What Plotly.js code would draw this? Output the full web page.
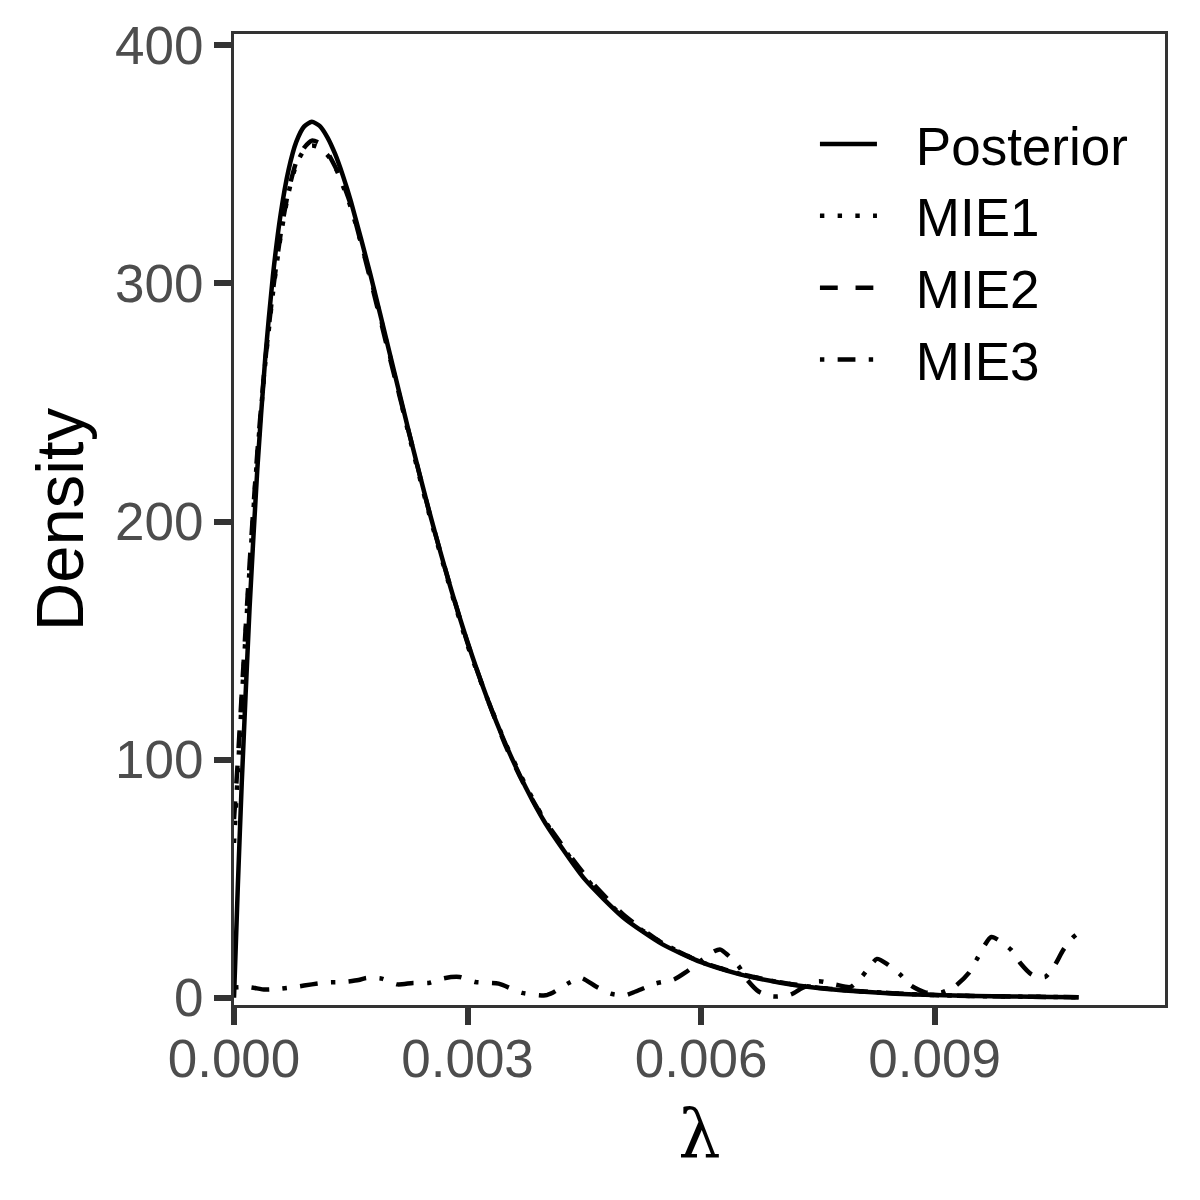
<!DOCTYPE html>
<html>
<head>
<meta charset="utf-8">
<script src="https://cdn.plot.ly/plotly-3.0.1.min.js"></script>
<style>html,body{margin:0;padding:0;background:#fff;}#chart{width:1200px;height:1200px;}</style>
</head>
<body>
<div id="chart"></div>
<script>
// Posterior density (solid)
const postLambda = [0, 0.00005, 0.0001, 0.0002, 0.0003, 0.0004, 0.0005, 0.0006, 0.0007, 0.0008, 0.0009, 0.001, 0.0011, 0.0012, 0.0013, 0.0014, 0.0015, 0.00175, 0.002, 0.00225, 0.0025, 0.00275, 0.003, 0.00325, 0.0035, 0.00375, 0.004, 0.0045, 0.005, 0.0055, 0.006, 0.0065, 0.007, 0.0075, 0.008, 0.0085, 0.009, 0.0095, 0.01, 0.0105, 0.01085];
const postDensity = [0, 47.6, 90.5, 163.7, 222.2, 268.1, 303.3, 329.3, 347.6, 359.5, 365.9, 367.9, 366.2, 361.4, 354.3, 345.2, 334.7, 304.1, 270.7, 237.2, 205.2, 175.8, 149.4, 126.0, 105.7, 88.2, 73.3, 50.0, 33.7, 22.5, 14.9, 9.8, 6.4, 4.1, 2.7, 1.7, 1.1, 0.7, 0.5, 0.3, 0.2];

// MIE1 (dotted) and MIE2 (dashed) share the same lambda grid
const mieLambda = [0, 0.00005, 0.0001, 0.0002, 0.0003, 0.0004, 0.0005, 0.0006, 0.0007, 0.0008, 0.0009, 0.001, 0.0011, 0.0012, 0.0013, 0.0014, 0.0015, 0.00175, 0.002, 0.00225, 0.0025, 0.00275, 0.003, 0.00325, 0.0035, 0.00375, 0.004, 0.0045, 0.005, 0.0055, 0.006, 0.0065, 0.007, 0.0075, 0.008, 0.0085, 0.009, 0.0095, 0.01, 0.0105, 0.01085];
const mie1Density = [65, 95, 125, 180, 228, 266, 296, 320, 338, 350, 356, 358, 357, 354, 349, 341, 332, 303, 270, 236, 204, 175, 148, 126, 106, 89, 74, 51, 34, 23, 15, 10, 6.5, 4.2, 2.8, 1.8, 1.1, 0.7, 0.5, 0.3, 0.2];
const mie2Density = [75, 100, 128, 182, 229, 267, 297, 321, 339, 351, 357, 360, 359, 355, 349, 342, 333, 302, 269, 237, 205, 176, 149, 126, 105, 88, 74, 52, 35, 23, 15, 10, 6.6, 4.2, 2.8, 1.8, 1.1, 0.7, 0.5, 0.3, 0.2];

// MIE3 (dot-dash), noisy density near zero
const mie3Lambda = [0, 0.0002, 0.0004, 0.0006, 0.0008, 0.001, 0.0012, 0.0014, 0.0016, 0.0017, 0.0019, 0.0021, 0.0023, 0.0025, 0.0027, 0.0029, 0.0031, 0.0034, 0.0037, 0.004, 0.0041, 0.0043, 0.00446, 0.00465, 0.00484, 0.00503, 0.00516, 0.00542, 0.00565, 0.0058, 0.006, 0.00617, 0.00625, 0.00634, 0.00648, 0.00659, 0.00674, 0.00692, 0.00715, 0.0073, 0.00751, 0.00773, 0.00792, 0.00807, 0.00826, 0.0084, 0.00856, 0.0087, 0.00888, 0.00909, 0.00927, 0.00944, 0.00954, 0.00973, 0.00998, 0.0101, 0.01025, 0.01042, 0.01054, 0.01065, 0.01077, 0.01082];
const mie3Density = [4.3, 4.4, 3.4, 3.8, 4.6, 5.6, 6.4, 6.6, 7.4, 8.3, 8.0, 5.6, 6.2, 6.2, 8.2, 8.7, 6.6, 5.9, 2.0, 1.0, 2.2, 6.2, 8.3, 4.7, 1.7, 1.0, 2.6, 6.0, 7.6, 10.6, 15.5, 19.5, 20.2, 18.0, 13.4, 7.6, 2.6, 0.5, 1.3, 4.1, 6.9, 5.5, 4.5, 9.0, 16.3, 13.9, 9.7, 5.0, 2.2, 2.2, 5.0, 10.4, 16.0, 25.5, 20.2, 14.6, 9.7, 8.7, 13.4, 19.9, 25.1, 26.5];

const seriesNames = ["Posterior", "MIE1", "MIE2", "MIE3"];
const xTickVals = [0, 0.003, 0.006, 0.009];
const xTickText = ["0.000", "0.003", "0.006", "0.009"];
const yTickVals = [0, 100, 200, 300, 400];
const yTickText = ["0", "100", "200", "300", "400"];

const LW = 4.5;
const dashes = ["solid", "4.4px,13.3px", "17.8px,17.8px", "4.4px,13.3px,17.8px,13.3px"];
const xs = [postLambda, mieLambda, mieLambda, mie3Lambda];
const ys = [postDensity, mie1Density, mie2Density, mie3Density];
const GAP = "\u00A0\u00A0\u200A";

const traces = seriesNames.map((name, i) => ({
  x: xs[i], y: ys[i], name: GAP + name, type: "scatter", mode: "lines",
  line: {color: "#000000", width: LW, dash: dashes[i], shape: "spline", smoothing: 0.6},
  hoverinfo: "skip"
}));

const FONT = "Liberation Sans, Arial, sans-serif";

const layout = {
  width: 1200, height: 1200,
  paper_bgcolor: "#ffffff", plot_bgcolor: "#ffffff",
  margin: {l: 234, r: 35, t: 34, b: 195, pad: 0},
  showlegend: true,
  legend: {
    x: 0.624, y: 0.929, xanchor: "left", yanchor: "top",
    bgcolor: "rgba(255,255,255,0)", borderwidth: 0,
    font: {family: FONT, size: 53, color: "#000000"},
    itemwidth: 57, tracegroupgap: 0
  },
  xaxis: {
    range: [0, 0.01196], autorange: false,
    tickvals: xTickVals, ticktext: xTickText,
    ticks: "outside", ticklen: 17, tickwidth: 6, tickcolor: "#333333",
    tickfont: {family: FONT, size: 53, color: "#4D4D4D"},
    ticklabelstandoff: -12,
    showgrid: false, zeroline: false,
    showline: true, mirror: true, linecolor: "#333333", linewidth: 3,
    title: {text: "λ", font: {family: "DejaVu Serif, Liberation Serif, serif", size: 67, color: "#000000"}, standoff: 24},
    automargin: false
  },
  yaxis: {
    range: [-3.07, 404.8], autorange: false,
    tickvals: yTickVals, ticktext: yTickText,
    ticks: "outside", ticklen: 17, tickwidth: 6, tickcolor: "#333333",
    tickfont: {family: FONT, size: 53, color: "#4D4D4D"},
    ticklabelstandoff: 0,
    showgrid: false, zeroline: false,
    showline: true, mirror: true, linecolor: "#333333", linewidth: 3,
    title: {text: "Density", font: {family: FONT, size: 67, color: "#000000"}, standoff: 10},
    automargin: false
  }
};

Plotly.newPlot("chart", traces, layout, {staticPlot: true, displayModeBar: false});
</script>
</body>
</html>
